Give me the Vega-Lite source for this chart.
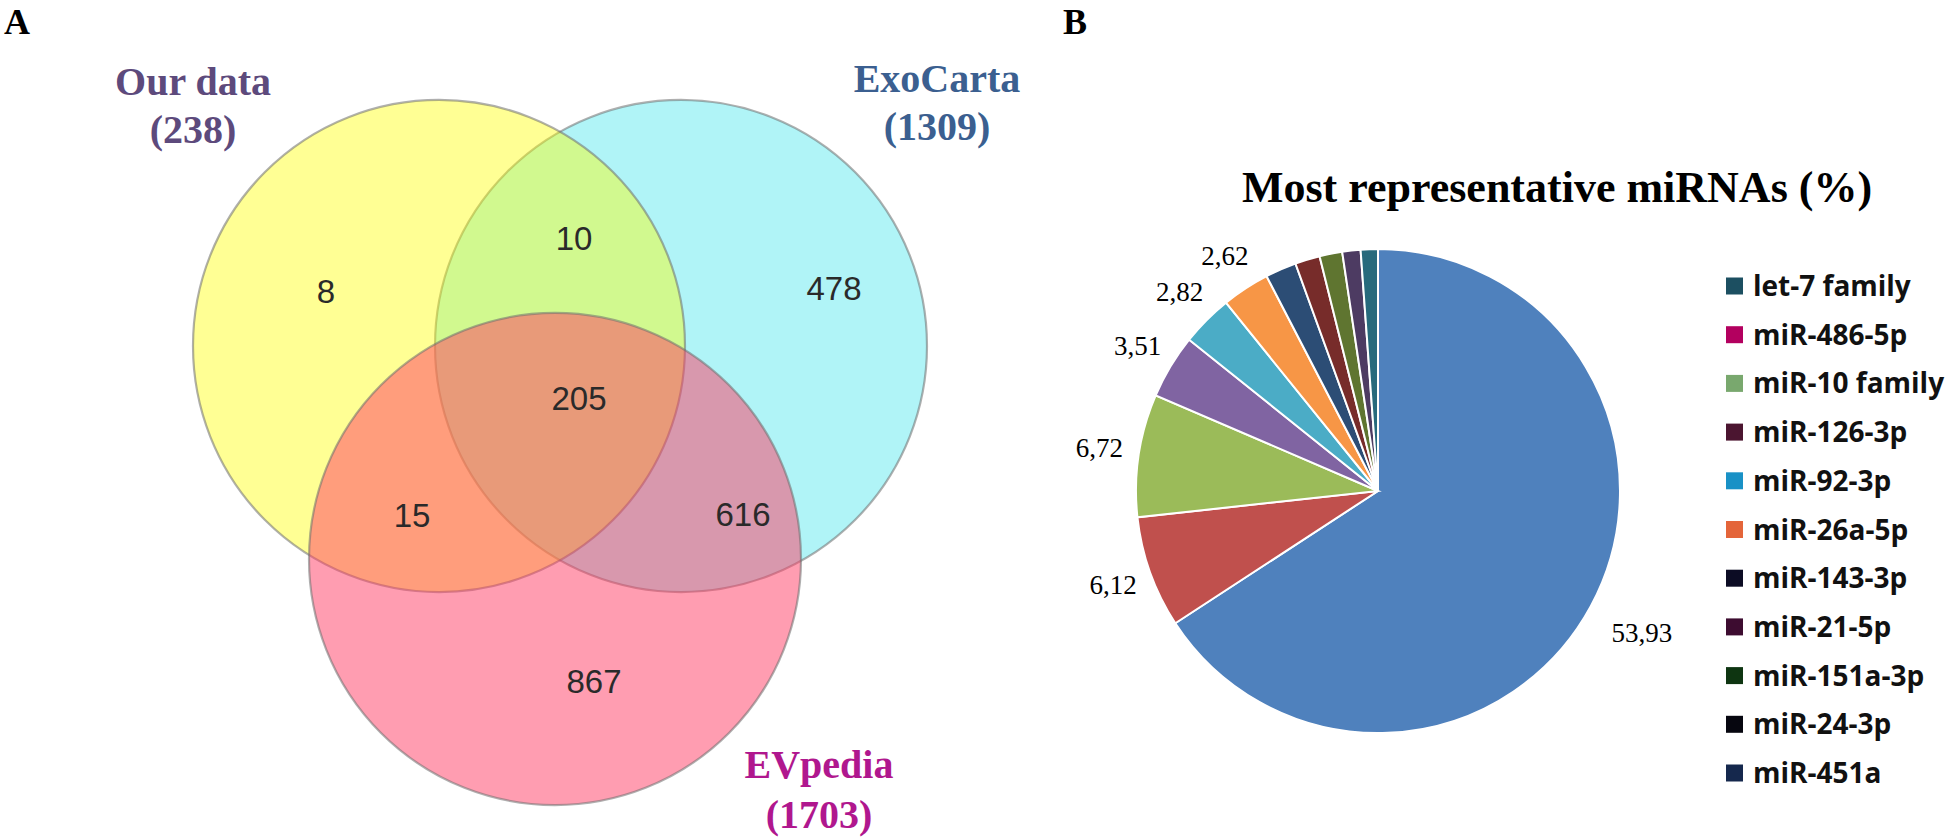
{
  "$schema": "https://vega.github.io/schema/vega-lite/v6.json",
  "padding": 0,
  "background": "white",
  "config": {"view": {"stroke": null}},
  "datasets": {
    "mirna": [
      {"idx": 1, "name": "let-7 family", "value": 53.93, "label": "53,93"},
      {"idx": 2, "name": "miR-486-5p", "value": 6.12, "label": "6,12"},
      {"idx": 3, "name": "miR-10 family", "value": 6.72, "label": "6,72"},
      {"idx": 4, "name": "miR-126-3p", "value": 3.51, "label": "3,51"},
      {"idx": 5, "name": "miR-92-3p", "value": 2.82, "label": "2,82"},
      {"idx": 6, "name": "miR-26a-5p", "value": 2.62, "label": "2,62"},
      {"idx": 7, "name": "miR-143-3p", "value": 1.7, "label": ""},
      {"idx": 8, "name": "miR-21-5p", "value": 1.36, "label": ""},
      {"idx": 9, "name": "miR-151a-3p", "value": 1.24, "label": ""},
      {"idx": 10, "name": "miR-24-3p", "value": 1.0, "label": ""},
      {"idx": 11, "name": "miR-451a", "value": 0.94, "label": ""}
    ]
  },
  "spacing": 0,
  "bounds": "flush",
  "resolve": {"scale": {"color": "independent"}},
  "hconcat": [
    {
      "width": 1040,
      "height": 837,
      "layer": [
        {
          "data": {"values": [
            {"set": "ExoCarta", "x": 68.1, "y": 34.6},
            {"set": "Our data", "x": 43.9, "y": 34.6},
            {"set": "EVpedia", "x": 55.5, "y": 55.9}
          ]},
          "mark": {"type": "point", "shape": "circle", "filled": true, "size": 242064, "opacity": 1, "stroke": "#6e6e6e", "strokeWidth": 2.2, "strokeOpacity": 0.55},
          "encoding": {
            "x": {"field": "x", "type": "quantitative", "scale": {"domain": [0, 104], "nice": false, "zero": false}, "axis": null},
            "y": {"field": "y", "type": "quantitative", "scale": {"domain": [83.7, 0], "nice": false, "zero": false}, "axis": null},
            "color": {"field": "set", "type": "nominal", "scale": {"domain": ["Our data", "ExoCarta", "EVpedia"], "range": ["rgba(255,255,0,0.42)", "rgba(0,220,230,0.31)", "rgba(255,60,100,0.5)"]}, "legend": null}
          }
        },
        {
          "data": {"values": [
            {"t": "8", "x": 32.6, "y": 30.3},
            {"t": "10", "x": 57.4, "y": 25.0},
            {"t": "478", "x": 83.4, "y": 30.0},
            {"t": "205", "x": 57.9, "y": 41.0},
            {"t": "15", "x": 41.2, "y": 52.7},
            {"t": "616", "x": 74.3, "y": 52.6},
            {"t": "867", "x": 59.4, "y": 69.3}
          ]},
          "mark": {"type": "text", "font": "Liberation Sans", "fontSize": 33, "align": "center", "baseline": "alphabetic", "fill": "#2a2a2a"},
          "encoding": {
            "x": {"field": "x", "type": "quantitative", "scale": {"domain": [0, 104], "nice": false, "zero": false}, "axis": null},
            "y": {"field": "y", "type": "quantitative", "scale": {"domain": [83.7, 0], "nice": false, "zero": false}, "axis": null},
            "text": {"field": "t"}
          }
        },
        {
          "data": {"values": [
            {"t": "Our data", "set": "Our data", "x": 19.3, "y": 9.5},
            {"t": "(238)", "set": "Our data", "x": 19.3, "y": 14.3},
            {"t": "ExoCarta", "set": "ExoCarta", "x": 93.7, "y": 9.2},
            {"t": "(1309)", "set": "ExoCarta", "x": 93.7, "y": 14.0},
            {"t": "EVpedia", "set": "EVpedia", "x": 81.9, "y": 77.8},
            {"t": "(1703)", "set": "EVpedia", "x": 81.9, "y": 82.8}
          ]},
          "mark": {"type": "text", "font": "Liberation Serif", "fontWeight": "bold", "fontSize": 40, "align": "center", "baseline": "alphabetic"},
          "encoding": {
            "x": {"field": "x", "type": "quantitative", "scale": {"domain": [0, 104], "nice": false, "zero": false}, "axis": null},
            "y": {"field": "y", "type": "quantitative", "scale": {"domain": [83.7, 0], "nice": false, "zero": false}, "axis": null},
            "text": {"field": "t"},
            "color": {"field": "set", "type": "nominal", "scale": {"domain": ["Our data", "ExoCarta", "EVpedia"], "range": ["#5d4a7c", "#3b5f90", "#b0178e"]}, "legend": null}
          }
        },
        {
          "data": {"values": [{"t": "A", "x": 1.7, "y": 3.4}]},
          "mark": {"type": "text", "font": "Liberation Serif", "fontWeight": "bold", "fontSize": 36, "align": "center", "baseline": "alphabetic", "fill": "#000000"},
          "encoding": {
            "x": {"field": "x", "type": "quantitative", "scale": {"domain": [0, 104], "nice": false, "zero": false}, "axis": null},
            "y": {"field": "y", "type": "quantitative", "scale": {"domain": [83.7, 0], "nice": false, "zero": false}, "axis": null},
            "text": {"field": "t"}
          }
        }
      ],
      "resolve": {"scale": {"color": "independent"}}
    },
    {
      "spacing": 0,
      "bounds": "flush",
      "resolve": {"scale": {"color": "independent"}},
      "vconcat": [
        {
          "width": 906,
          "height": 215,
          "layer": [
            {
              "data": {"values": [{"t": "B", "x": 3.5, "y": 3.4}]},
              "mark": {"type": "text", "font": "Liberation Serif", "fontWeight": "bold", "fontSize": 36, "align": "center", "baseline": "alphabetic", "fill": "#000000"},
              "encoding": {
                "x": {"field": "x", "type": "quantitative", "scale": {"domain": [0, 90.6], "nice": false, "zero": false}, "axis": null},
                "y": {"field": "y", "type": "quantitative", "scale": {"domain": [21.5, 0], "nice": false, "zero": false}, "axis": null},
                "text": {"field": "t"}
              }
            },
            {
              "data": {"values": [{"t": "Most representative miRNAs (%)", "x": 51.7, "y": 20.2}]},
              "mark": {"type": "text", "font": "Liberation Serif", "fontWeight": "bold", "fontSize": 44, "align": "center", "baseline": "alphabetic", "fill": "#000000"},
              "encoding": {
                "x": {"field": "x", "type": "quantitative", "scale": {"domain": [0, 90.6], "nice": false, "zero": false}, "axis": null},
                "y": {"field": "y", "type": "quantitative", "scale": {"domain": [21.5, 0], "nice": false, "zero": false}, "axis": null},
                "text": {"field": "t"}
              }
            }
          ]
        },
        {
          "spacing": 0,
          "bounds": "flush",
          "resolve": {"scale": {"color": "independent"}},
          "hconcat": [
            {
              "width": 676,
              "height": 552,
              "data": {"name": "mirna"},
              "layer": [
                {
                  "mark": {"type": "arc", "outerRadius": 242, "stroke": "white", "strokeWidth": 2},
                  "encoding": {
                    "theta": {"field": "value", "type": "quantitative", "stack": true},
                    "order": {"field": "idx", "type": "quantitative"},
                    "color": {"field": "name", "type": "nominal", "scale": {"domain": ["let-7 family", "miR-486-5p", "miR-10 family", "miR-126-3p", "miR-92-3p", "miR-26a-5p", "miR-143-3p", "miR-21-5p", "miR-151a-3p", "miR-24-3p", "miR-451a"], "range": ["#4f81bd", "#c0504d", "#9bbb59", "#8064a2", "#4bacc6", "#f79646", "#2c4d75", "#772c2a", "#5f7530", "#4d3b62", "#276a7c"]}, "legend": null}
                  }
                },
                {
                  "mark": {"type": "text", "font": "Liberation Serif", "fontSize": 27, "fill": "#000000", "align": "center", "baseline": "middle"},
                  "encoding": {
                    "theta": {"field": "value", "type": "quantitative", "stack": true},
                    "order": {"field": "idx", "type": "quantitative"},
                    "radius": {"field": "value", "type": "quantitative", "scale": {"type": "linear", "domain": [0, 53.93], "range": [279, 300], "zero": false, "nice": false}},
                    "text": {"field": "label"}
                  }
                }
              ]
            },
            {
              "width": 37,
              "height": 622,
              "data": {"name": "mirna"},
              "layer": [
                {
                  "mark": {"type": "point", "shape": "square", "filled": true, "size": 289, "opacity": 1},
                  "encoding": {
                    "y": {"field": "name", "type": "nominal", "sort": null, "scale": {"type": "point", "domain": ["let-7 family", "miR-486-5p", "miR-10 family", "miR-126-3p", "miR-92-3p", "miR-26a-5p", "miR-143-3p", "miR-21-5p", "miR-151a-3p", "miR-24-3p", "miR-451a"], "range": [71, 558], "padding": 0}, "axis": null},
                    "color": {"field": "name", "type": "nominal", "scale": {"domain": ["let-7 family", "miR-486-5p", "miR-10 family", "miR-126-3p", "miR-92-3p", "miR-26a-5p", "miR-143-3p", "miR-21-5p", "miR-151a-3p", "miR-24-3p", "miR-451a"], "range": ["#1c4f61", "#b3005f", "#79a86e", "#4b1530", "#1991c6", "#e4653a", "#0c0c24", "#3d0c30", "#0e3511", "#06060f", "#15284d"]}, "legend": null}
                  }
                },
                {
                  "mark": {"type": "text", "align": "left", "baseline": "alphabetic", "dx": 18.5, "dy": 10, "font": "Open Sans", "fontWeight": "bold", "fontSize": 28, "fill": "#111111"},
                  "encoding": {
                    "y": {"field": "name", "type": "nominal", "sort": null, "scale": {"type": "point", "domain": ["let-7 family", "miR-486-5p", "miR-10 family", "miR-126-3p", "miR-92-3p", "miR-26a-5p", "miR-143-3p", "miR-21-5p", "miR-151a-3p", "miR-24-3p", "miR-451a"], "range": [71, 558], "padding": 0}, "axis": null},
                    "text": {"field": "name"}
                  }
                }
              ]
            }
          ]
        }
      ]
    }
  ]
}
